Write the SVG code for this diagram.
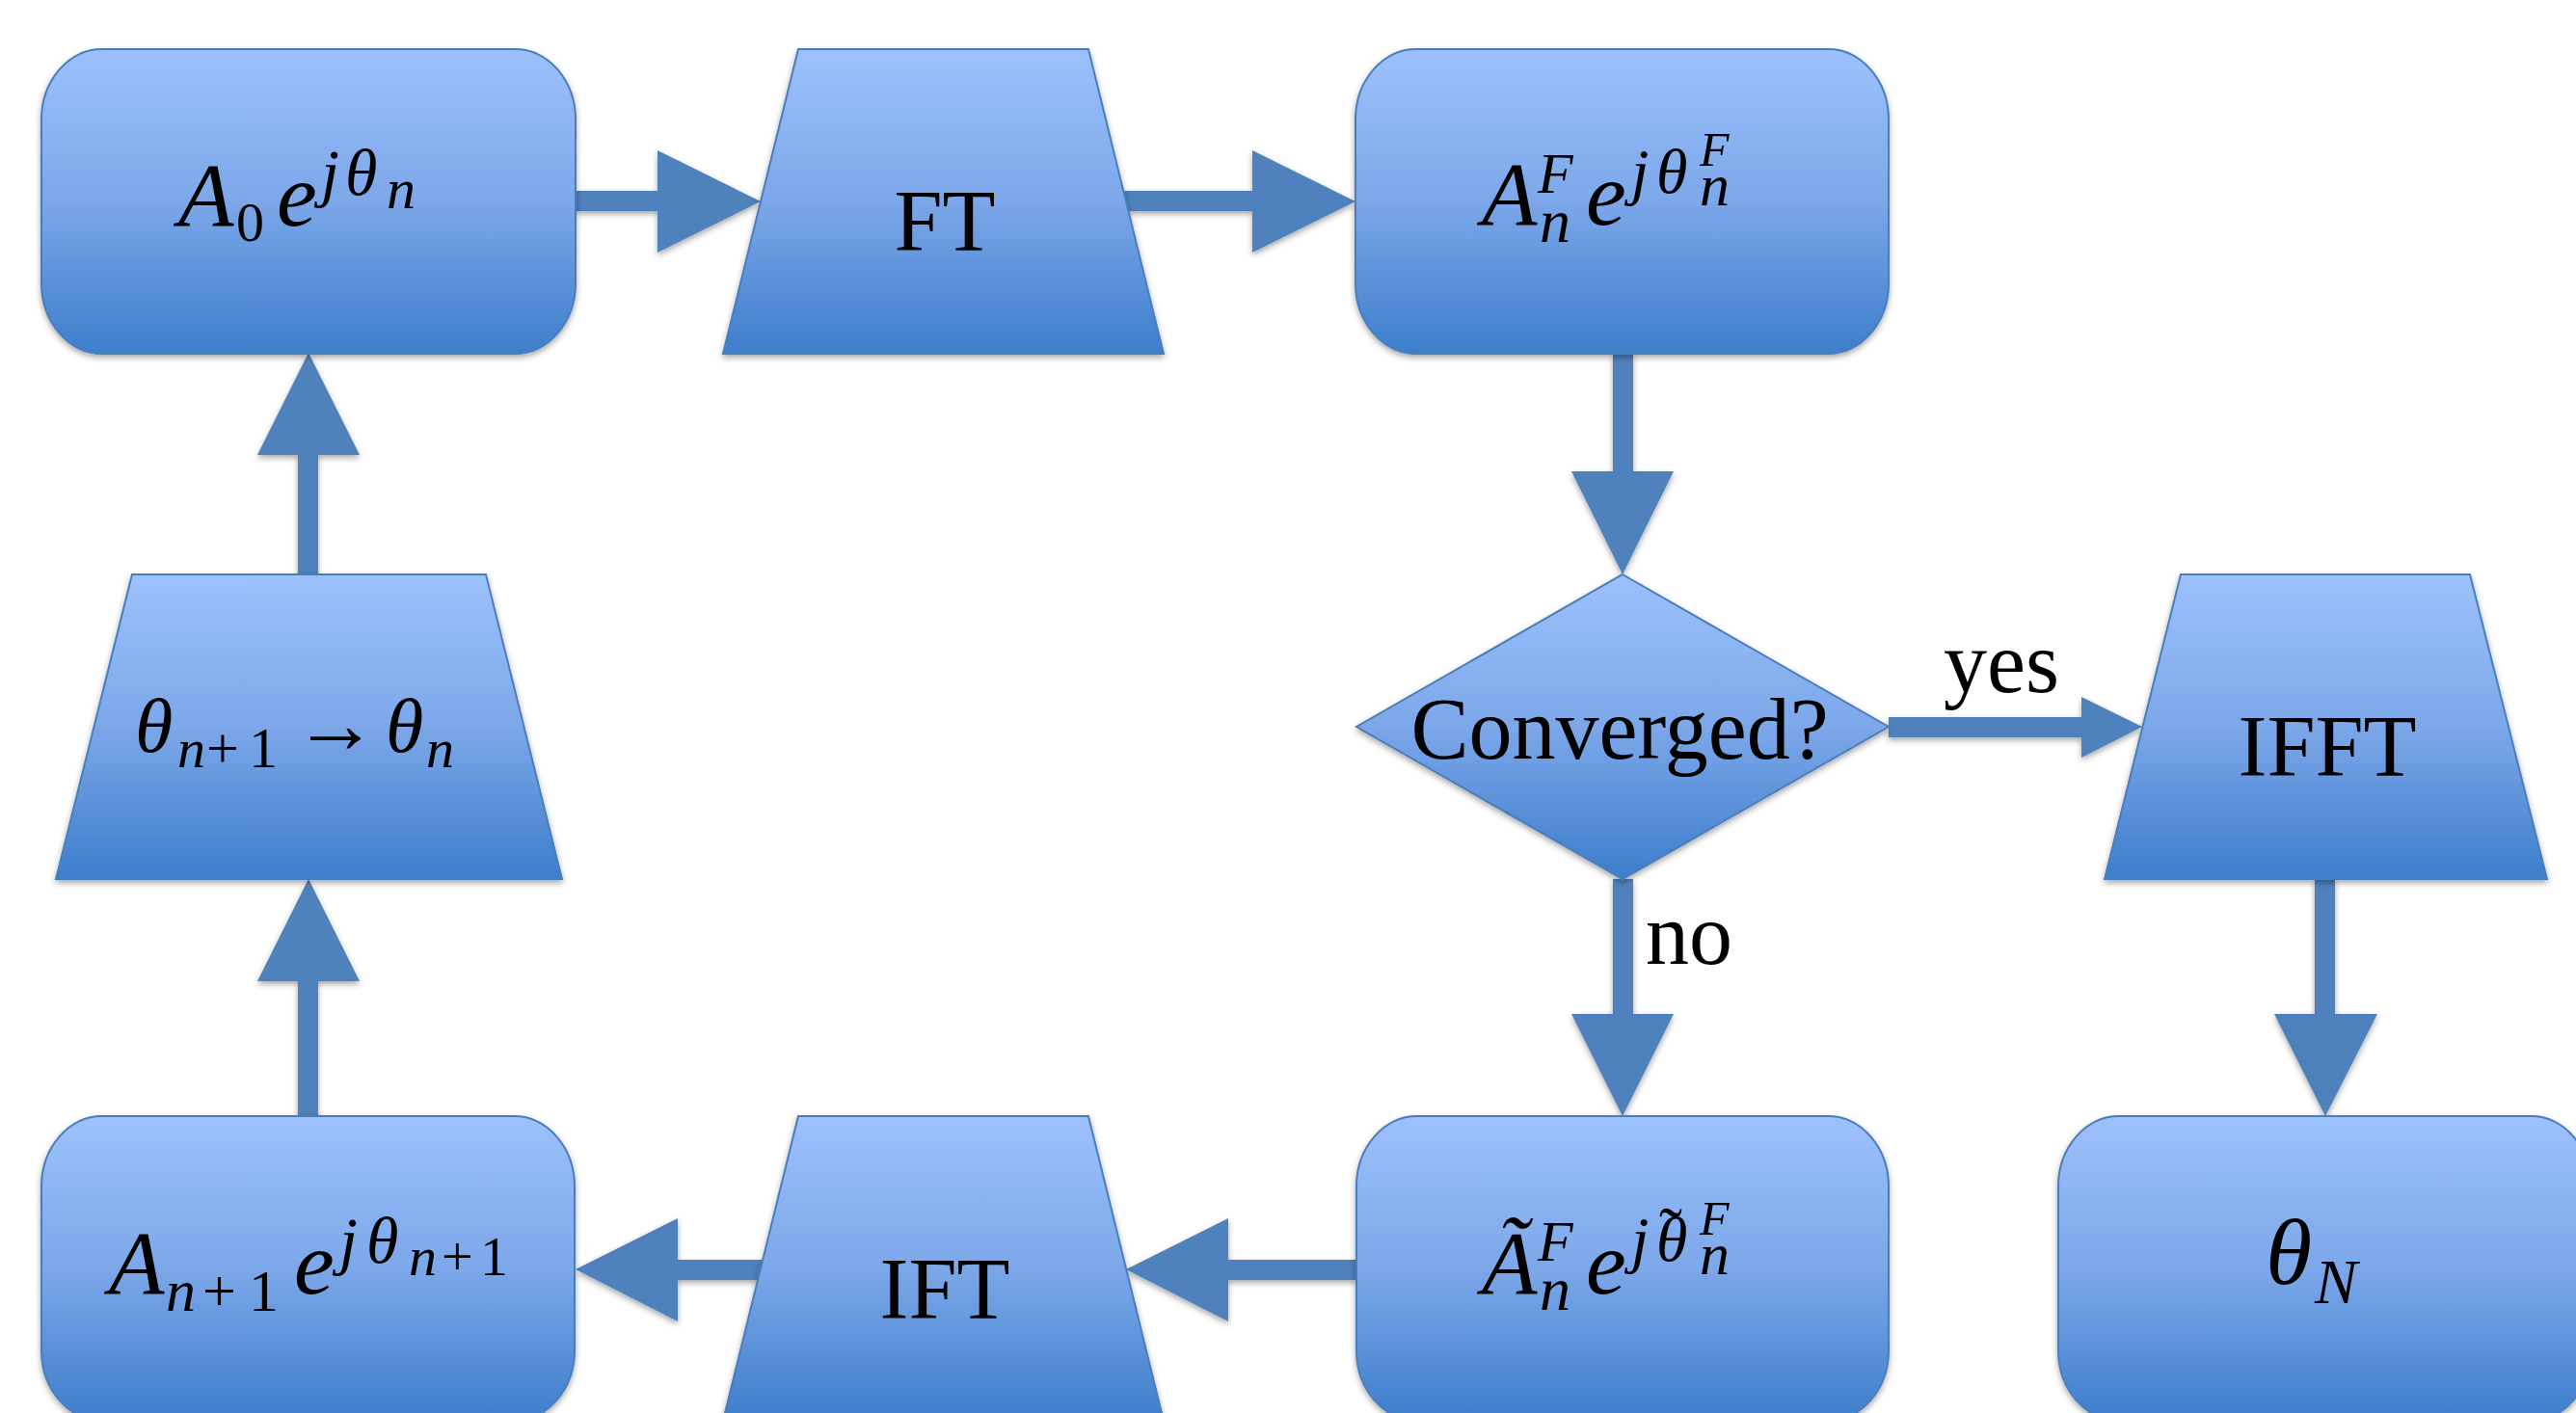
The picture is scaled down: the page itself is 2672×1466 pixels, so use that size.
<svg xmlns="http://www.w3.org/2000/svg" width="2672" height="1466" viewBox="0 0 2672 1466">
<defs>
<linearGradient id="g" x1="0" y1="0" x2="0" y2="1">
<stop offset="0" stop-color="#9DC1FD"/>
<stop offset="0.5" stop-color="#7CA7E9"/>
<stop offset="1" stop-color="#3D7ECB"/>
</linearGradient>
<filter id="sh" x="-5%" y="-5%" width="110%" height="115%">
<feDropShadow dx="0" dy="3" stdDeviation="3" flood-color="#000" flood-opacity="0.35"/>
</filter>
</defs>
<style>
.n{fill:url(#g);stroke:#4A7EBB;stroke-width:2;filter:url(#sh)}
.c{fill:#4F81BD;filter:url(#sh)}
text{font-family:"Liberation Serif","Times New Roman",serif;fill:#000}
.i{font-style:italic}
.t{font-size:90px;text-anchor:middle}
.l{font-size:90px}
</style>
<rect width="2672" height="1466" fill="#fff"/>
<g id="connectors">
<polygon class="c" points="597,198 682,198 682,156 789,209 682,262 682,219 597,219"/>
<polygon class="c" points="1166,198 1299,198 1299,156 1406,209 1299,262 1299,219 1170,219"/>
<polygon class="c" points="1673,366 1694,366 1694,489 1736,489 1683,596 1630,489 1673,489"/>
<polygon class="c" points="1959,744 2159,744 2159,723 2222,754 2159,786 2159,765 1959,765"/>
<polygon class="c" points="1673,912 1694,912 1694,1052 1736,1052 1683,1158 1630,1052 1673,1052"/>
<polygon class="c" points="2401,912 2422,912 2422,1052 2466,1052 2412,1158 2359,1052 2401,1052"/>
<polygon class="c" points="1407,1307 1274,1307 1274,1264 1168,1317 1274,1371 1274,1328 1407,1328"/>
<polygon class="c" points="791,1307 703,1307 703,1264 597,1317 703,1371 703,1328 789,1328"/>
<polygon class="c" points="309,1158 309,1018 267,1018 320,912 373,1018 330,1018 330,1158"/>
<polygon class="c" points="309,596 309,472 267,472 320,366 373,472 330,472 330,596"/>
<text class="l" x="2016" y="718">yes</text>
<text class="l" x="1707" y="1000">no</text>
</g>
<g id="node-a0">
<rect class="n" x="43" y="51" width="554" height="316" rx="63" ry="73"/>
<text><tspan class="i" x="185" y="234" font-size="94">A</tspan><tspan x="245" y="250" font-size="58">0</tspan><tspan class="i" x="287" y="234" font-size="94">e</tspan><tspan class="i" x="333" y="202" font-size="68">j</tspan><tspan class="i" x="358" y="202" font-size="68">θ</tspan><tspan class="i" x="401" y="216" font-size="60">n</tspan></text>
</g>
<g id="node-ft">
<polygon class="n" points="828,51 1129,51 1207,367 750,367"/>
<text class="t" x="980" y="260">FT</text>
</g>
<g id="node-anf">
<rect class="n" x="1406" y="51" width="553" height="316" rx="63" ry="73"/>
<text><tspan class="i" x="1537" y="233" font-size="94">A</tspan><tspan class="i" x="1595" y="200" font-size="60">F</tspan><tspan class="i" x="1597" y="251" font-size="64">n</tspan><tspan class="i" x="1645" y="233" font-size="94">e</tspan><tspan class="i" x="1692" y="200" font-size="66">j</tspan><tspan class="i" x="1718" y="200" font-size="66">θ</tspan><tspan class="i" x="1763" y="172" font-size="50">F</tspan><tspan class="i" x="1763" y="213" font-size="62">n</tspan></text>
</g>
<g id="node-converged">
<polygon class="n" points="1683,596 1959,754 1683,912 1407,754"/>
<text class="t" x="1680" y="787">Converged?</text>
</g>
<g id="node-ifft">
<polygon class="n" points="2262,596 2562,596 2642,912 2183,912"/>
<text class="t" x="2414" y="805">IFFT</text>
</g>
<g id="node-update">
<polygon class="n" points="137,596 504,596 583,912 58,912"/>
<text><tspan class="i" x="140" y="780" font-size="80">θ</tspan><tspan class="i" x="184" y="796" font-size="58">n</tspan><tspan x="214" y="796" font-size="60">+</tspan><tspan x="258" y="796" font-size="60">1</tspan><tspan x="304" y="781" font-size="88">→</tspan><tspan class="i" x="400" y="780" font-size="80">θ</tspan><tspan class="i" x="442" y="796" font-size="58">n</tspan></text>
</g>
<g id="node-an1">
<rect class="n" x="43" y="1158" width="553" height="316" rx="63" ry="73"/>
<text><tspan class="i" x="113" y="1342" font-size="94">A</tspan><tspan class="i" x="172" y="1360" font-size="62">n</tspan><tspan x="210" y="1360" font-size="62">+</tspan><tspan x="258" y="1360" font-size="62">1</tspan><tspan class="i" x="305" y="1342" font-size="94">e</tspan><tspan class="i" x="352" y="1310" font-size="68">j</tspan><tspan class="i" x="380" y="1310" font-size="68">θ</tspan><tspan class="i" x="424" y="1323" font-size="58">n</tspan><tspan x="458" y="1323" font-size="58">+</tspan><tspan x="498" y="1323" font-size="58">1</tspan></text>
</g>
<g id="node-ift">
<polygon class="n" points="828,1158 1129,1158 1207,1474 750,1474"/>
<text class="t" x="980" y="1368">IFT</text>
</g>
<g id="node-atilde">
<rect class="n" x="1407" y="1158" width="552" height="316" rx="63" ry="73"/>
<text><tspan class="i" x="1537" y="1342" font-size="94">Ã</tspan><tspan class="i" x="1595" y="1308" font-size="60">F</tspan><tspan class="i" x="1597" y="1359" font-size="64">n</tspan><tspan class="i" x="1645" y="1342" font-size="94">e</tspan><tspan class="i" x="1692" y="1308" font-size="66">j</tspan><tspan class="i" x="1718" y="1308" font-size="66">θ</tspan><tspan class="i" x="1763" y="1281" font-size="50">F</tspan><tspan class="i" x="1763" y="1322" font-size="62">n</tspan><tspan x="1721" y="1302" font-size="72">˜</tspan></text>
</g>
<g id="node-thetaN">
<rect class="n" x="2135" y="1158" width="553" height="316" rx="63" ry="73"/>
<text><tspan class="i" x="2350" y="1332" font-size="98">θ</tspan><tspan class="i" x="2401" y="1352" font-size="66">N</tspan></text>
</g>
</svg>
